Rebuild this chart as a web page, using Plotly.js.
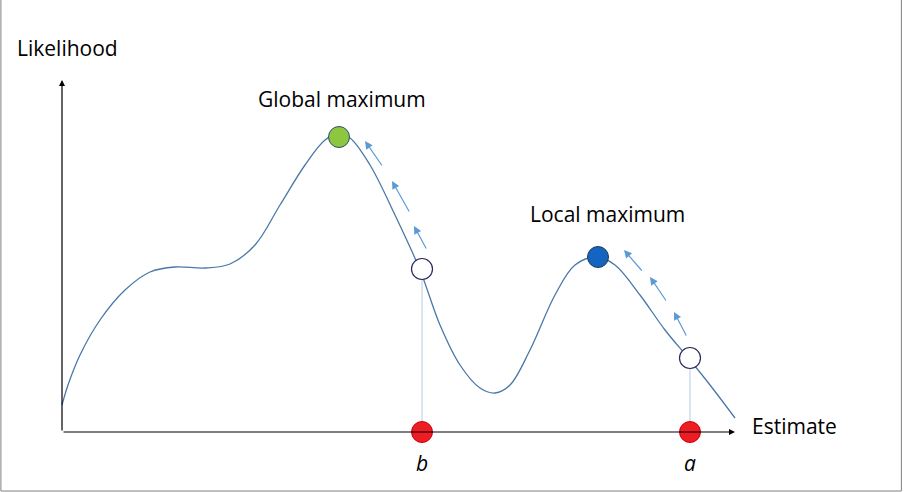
<!DOCTYPE html>
<html>
<head>
<script src="https://cdn.plot.ly/plotly-3.0.1.min.js"></script>
<style>body{margin:0}#plot{width:905px;height:492px}</style>
</head>
<body>
<div id="plot"></div>
<script>
// likelihood curve (estimate, likelihood)
var curveX = [0, 6, 18, 38, 63, 88, 113, 143, 168, 193, 218, 243, 263, 276, 288, 308, 333, 358, 378, 398, 418, 433, 448, 468, 493, 513, 535, 553, 578, 603, 628, 648, 673];
var curveY = [27, 47, 77, 112, 142, 160, 165, 164, 168, 187, 227, 267, 292, 298, 294, 267, 217, 162, 107, 67, 44, 39, 47, 82, 137, 167, 175, 167, 137, 102, 72, 47, 14];

var globalMax = [277, 295];
var localMax = [536, 175];
var starts = [[360, 163], [628, 74]];
var startLabels = ['b', 'a'];

// climbing arrows [tailX, tailY, headX, headY]
var arrows = [
  [321, 265, 303, 291], [348, 219, 330, 251], [365, 182, 352, 206],
  [581, 160, 562, 182], [605, 130, 588, 155], [625, 95, 612, 120]
];

var txtFont = {family: 'Open Sans, sans-serif', size: 21, color: '#000'};

var traces = [
  {x: curveX, y: curveY, mode: 'lines', line: {shape: 'spline', color: '#4a78a8', width: 1.3}, hoverinfo: 'skip'}
];
starts.forEach(function (s) {
  traces.push({x: [s[0], s[0]], y: [0, s[1]], mode: 'lines', line: {color: '#b8cce4', width: 1}});
});
traces.push({x: [globalMax[0]], y: [globalMax[1]], mode: 'markers',
  marker: {size: 21, color: '#8dc63f', line: {color: '#2f4f6f', width: 1}}});
traces.push({x: [localMax[0]], y: [localMax[1]], mode: 'markers',
  marker: {size: 21, color: '#1565c0', line: {color: '#1f3a5a', width: 1}}});
traces.push({x: starts.map(function (s) { return s[0]; }), y: starts.map(function (s) { return s[1]; }), mode: 'markers',
  marker: {size: 21, color: '#fff', line: {color: '#2a2a5a', width: 1.2}}});
traces.push({x: starts.map(function (s) { return s[0]; }), y: [0, 0], mode: 'markers',
  marker: {size: 21, color: '#ee1c24', line: {color: '#c00', width: 1}}});

var ann = [];
arrows.forEach(function (a) {
  ann.push({x: a[2], y: a[3], ax: a[0], ay: a[1], axref: 'x', ayref: 'y', xref: 'x', yref: 'y',
    showarrow: true, arrowhead: 2, arrowsize: 1.3, arrowwidth: 1.2, arrowcolor: '#5b9bd5', text: ''});
});
// axes
ann.push({x: 0, y: 352, ax: 0, ay: 0, axref: 'x', ayref: 'y', showarrow: true, arrowhead: 2, arrowsize: 1, arrowwidth: 1.2, arrowcolor: '#000', text: ''});
ann.push({x: 673, y: 0, ax: 0, ay: 0, axref: 'x', ayref: 'y', showarrow: true, arrowhead: 2, arrowsize: 1, arrowwidth: 1.2, arrowcolor: '#000', text: ''});
ann.push({x: 5, y: 384, text: 'Likelihood', showarrow: false, xanchor: 'center', font: txtFont});
ann.push({x: 280, y: 333, text: 'Global maximum', showarrow: false, font: txtFont});
ann.push({x: 545, y: 218, text: 'Local maximum', showarrow: false, font: txtFont});
ann.push({x: 688, y: 6, text: 'Estimate', showarrow: false, xanchor: 'left', font: txtFont});
starts.forEach(function (s, i) {
  ann.push({x: s[0], y: -31, text: '<i>' + startLabels[i] + '</i>', showarrow: false, font: txtFont});
});

var layout = {
  width: 905, height: 492,
  margin: {l: 0, r: 0, t: 0, b: 0},
  showlegend: false,
  paper_bgcolor: '#fff', plot_bgcolor: '#fff',
  xaxis: {range: [-62, 843], visible: false, fixedrange: true},
  yaxis: {range: [-60, 432], visible: false, fixedrange: true},
  annotations: ann,
  shapes: [{type: 'rect', xref: 'paper', yref: 'paper', x0: 0.001, x1: 0.996, y0: 0.002, y1: 1.2,
    line: {color: '#808080', width: 1}}]
};

Plotly.newPlot('plot', traces, layout, {displayModeBar: false, staticPlot: true});
</script>
</body>
</html>
